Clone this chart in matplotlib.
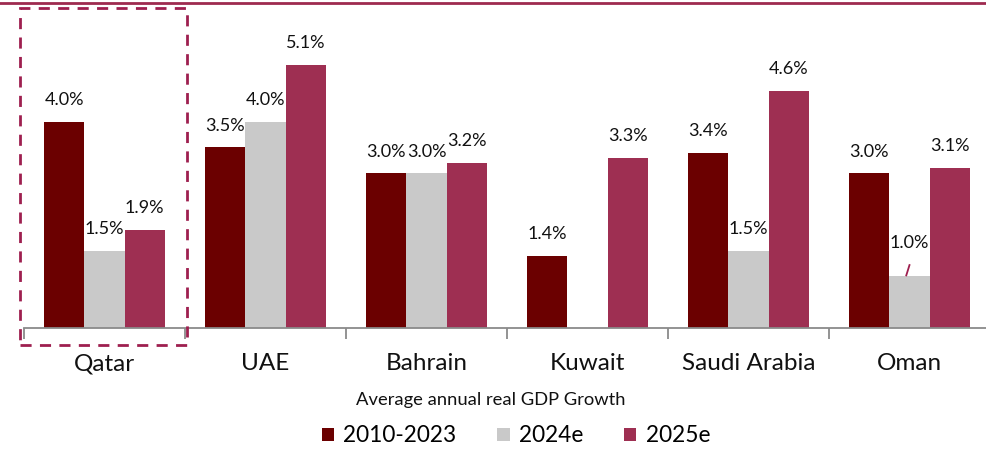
import numpy as np
import matplotlib.pyplot as plt
from matplotlib.lines import Line2D
from matplotlib.patches import Rectangle

plt.rcParams['font.family'] = ['Lato', 'DejaVu Sans']

categories = ["Qatar", "UAE", "Bahrain", "Kuwait", "Saudi Arabia", "Oman"]
series_names = ["2010-2023", "2024e", "2025e"]
v_2010_2023 = [4.0, 3.5, 3.0, 1.4, 3.4, 3.0]
v_2024e = [1.5, 4.0, 3.0, np.nan, 1.5, 1.0]
v_2025e = [1.9, 5.1, 3.2, 3.3, 4.6, 3.1]
colors = ["#6b0000", "#c9c9c9", "#9e2f52"]

W, H = 987, 449
fig = plt.figure(figsize=(W / 100, H / 100), dpi=100)
ax = fig.add_axes([24 / W, (H - 328) / H, 966 / W, 325 / H])

x = np.arange(len(categories))
bw = 0.25
series = [v_2010_2023, v_2024e, v_2025e]
for i, (vals, c, name) in enumerate(zip(series, colors, series_names)):
    xs = x + (i - 1) * bw
    ax.bar(xs, vals, width=bw, color=c, label=name, zorder=2)
    for xi, v in zip(xs, vals):
        if np.isnan(v):
            continue
        off = 0.42
        if name == "2024e" and v == 1.0:
            off = 0.64
            ax.plot([xi - 0.02, xi + 0.0], [v + 0.02, v + 0.22], color="#9e1f4f", lw=1.3, zorder=3)
        ax.text(xi, v + off, f"{v:.1f}%", ha="center", va="center", fontsize=13, color="#111111")

ax.set_xlim(-0.5, 5.5)
ax.set_ylim(0, 6.3)
ax.set_yticks([])
for s in ["top", "right", "left"]:
    ax.spines[s].set_visible(False)
ax.spines["bottom"].set_color("#8a8a8a")
ax.spines["bottom"].set_linewidth(1.3)
ax.set_xticks(np.arange(len(categories) + 1) - 0.5, minor=True)
ax.tick_params(axis="x", which="minor", length=8, color="#8a8a8a", width=1.3)
ax.set_xticks(x)
ax.set_xticklabels(categories, fontsize=17.5, color="#111111")
ax.tick_params(axis="x", which="major", length=0, pad=18)

# top rule
fig.add_artist(Line2D([0, 1], [1 - 3 / H, 1 - 3 / H], transform=fig.transFigure, color="#9e2a4f", lw=2))
# dashed highlight box around Qatar
fig.add_artist(Rectangle((20 / W, (H - 345) / H), 167 / W, 337 / H, transform=fig.transFigure,
                         fill=False, edgecolor="#9e1f4f", lw=2, ls=(0, (4, 3))))

fig.text(491 / W, 1 - 400 / H, "Average annual real GDP Growth", ha="center", va="center", fontsize=13.2, color="#111111")
fig.legend(loc="center", bbox_to_anchor=(516 / W, 1 - 436 / H), ncol=3, frameon=False, fontsize=16.3,
           handlelength=0.55, handleheight=0.55, columnspacing=1.8, handletextpad=0.4)

fig.savefig("out.png", dpi=100)
